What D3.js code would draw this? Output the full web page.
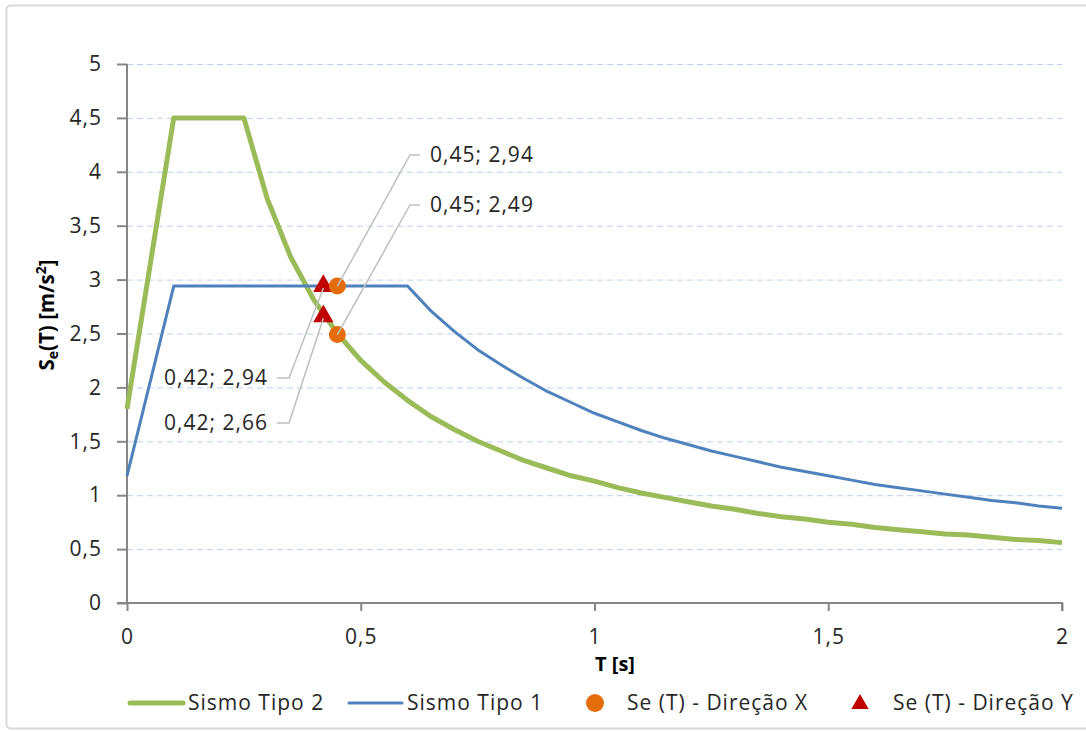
<!DOCTYPE html>
<html><head><meta charset="utf-8">
<script src="https://cdn.jsdelivr.net/npm/d3@7"></script>
<style>
html,body{margin:0;padding:0;background:#fff;}
svg{display:block;font-family:"Open Sans",Lato,sans-serif;}
</style></head>
<body>
<svg id="c" width="1086" height="731"></svg>
<script>
// ---- data ----
const periods = [0,0.1,0.15,0.2,0.25,0.3,0.35,0.4,0.45,0.5,0.55,0.6,0.65,0.7,0.75,0.8,0.85,0.9,0.95,1.0,1.05,1.1,1.15,1.2,1.25,1.3,1.35,1.4,1.45,1.5,1.55,1.6,1.65,1.7,1.75,1.8,1.85,1.9,1.95,2.0];
const sismoTipo2 = [1.80,4.50,4.50,4.50,4.50,3.75,3.21,2.81,2.50,2.25,2.05,1.88,1.73,1.61,1.50,1.41,1.32,1.25,1.18,1.13,1.07,1.02,0.98,0.94,0.90,0.87,0.83,0.80,0.78,0.75,0.73,0.70,0.68,0.66,0.64,0.63,0.61,0.59,0.58,0.56];
const sismoTipo1 = [1.18,2.94,2.94,2.94,2.94,2.94,2.94,2.94,2.94,2.94,2.94,2.94,2.71,2.52,2.35,2.21,2.08,1.96,1.86,1.76,1.68,1.60,1.53,1.47,1.41,1.36,1.31,1.26,1.22,1.18,1.14,1.10,1.07,1.04,1.01,0.98,0.95,0.93,0.90,0.88];
const dirX_T = [0.45,0.45];
const dirX_Se = [2.94,2.49];
const dirY_T = [0.42,0.42];
const dirY_Se = [2.94,2.66];
const xTicks = [0,0.5,1,1.5,2];
const yTicks = [0,0.5,1,1.5,2,2.5,3,3.5,4,4.5,5];
const legendLabels = ["Sismo Tipo 2","Sismo Tipo 1","Se (T) - Direção X","Se (T) - Direção Y"];

// ---- layout ----
const svg = d3.select("#c");
const fmt = v => String(v).replace(".", ",");
const x = d3.scaleLinear().domain([0,2]).range([127,1062]);
const y = d3.scaleLinear().domain([0,5]).range([603,64]);
const green="#9bbb59", blue="#4f81bd", orange="#e46c0a", red="#c00000";
const txt="#262626", FS=21, LS="1px";

svg.append("rect").attr("x",6.5).attr("y",5.5).attr("width",1100).attr("height",723)
  .attr("rx",4).attr("fill","#fff").attr("stroke","#d9d9d9").attr("stroke-width",2);

// gridlines
svg.append("g").selectAll("line").data(yTicks.filter(d=>d>0)).join("line")
  .attr("x1",x(0)).attr("x2",x(2)).attr("y1",d=>y(d)+0.5).attr("y2",d=>y(d)+0.5)
  .attr("stroke","#bcd0f2").attr("stroke-width",1).attr("stroke-dasharray","6,4");

// axes
const yAxis = svg.append("g").attr("transform",`translate(${x(0)},0)`)
  .call(d3.axisLeft(y).tickValues(yTicks).tickFormat(fmt).tickSize(10).tickPadding(15));
const xAxis = svg.append("g").attr("transform",`translate(0,${y(0)})`)
  .call(d3.axisBottom(x).tickValues(xTicks).tickFormat(fmt).tickSize(8).tickPadding(18));
[yAxis,xAxis].forEach(g=>{
  g.select(".domain").attr("stroke","#868686").attr("stroke-width",2);
  g.selectAll(".tick line").attr("stroke","#868686").attr("stroke-width",2);
  g.selectAll(".tick text").attr("fill",txt).attr("font-size",FS).attr("letter-spacing",LS)
    .attr("font-family","'Open Sans',Lato,sans-serif");
});
xAxis.select(".domain").attr("d",`M${x(0)-10},0H${x(2)}V8`);
yAxis.select(".domain").attr("d",`M0,${y(5)}V${y(0)}`);

// lines
const line = d3.line().x(d=>x(d[0])).y(d=>y(d[1]));
svg.append("path").datum(periods.map((t,i)=>[t,sismoTipo2[i]])).attr("d",line)
  .attr("fill","none").attr("stroke",green).attr("stroke-width",5).attr("stroke-linejoin","round");
svg.append("path").datum(periods.map((t,i)=>[t,sismoTipo1[i]])).attr("d",line)
  .attr("fill","none").attr("stroke",blue).attr("stroke-width",3).attr("stroke-linejoin","round");

// markers
const tri = d3.symbol().type(d3.symbolTriangle).size(180);
svg.append("g").selectAll("path").data(dirY_T.map((t,i)=>[t,dirY_Se[i]])).join("path")
  .attr("d",tri).attr("transform",d=>`translate(${x(d[0])},${y(d[1])})`).attr("fill",red);
svg.append("g").selectAll("circle").data(dirX_T.map((t,i)=>[t,dirX_Se[i]])).join("circle")
  .attr("cx",d=>x(d[0])).attr("cy",d=>y(d[1])).attr("r",8.5).attr("fill",orange);

// data labels with leader lines
const labels = [
  {t:dirX_T[0], v:dirX_Se[0], lx:410, ly:155, side:"right"},
  {t:dirX_T[1], v:dirX_Se[1], lx:410, ly:205, side:"right"},
  {t:dirY_T[0], v:dirY_Se[0], lx:289, ly:378, side:"left"},
  {t:dirY_T[1], v:dirY_Se[1], lx:289, ly:423, side:"left"}
];
const lg = svg.append("g");
labels.forEach(l=>{
  const px = x(l.t), py = y(l.v) + (l.side==="left"? 2 : 0);
  const hx = l.side==="right" ? l.lx+10 : l.lx-12;
  lg.append("path").attr("d",`M${px},${py}L${l.lx},${l.ly}H${hx}`)
    .attr("fill","none").attr("stroke","#bfbfbf").attr("stroke-width",1.5);
  lg.append("text").attr("x", l.side==="right"? l.lx+20 : l.lx-21).attr("y",l.ly)
    .attr("dy","0.35em").attr("text-anchor", l.side==="right"?"start":"end")
    .attr("font-size",FS).attr("letter-spacing",LS).attr("fill",txt).text(fmt(l.t)+"; "+fmt(l.v));
});

// axis titles
svg.append("text").attr("x",615).attr("y",664).attr("dy","0.35em").attr("text-anchor","middle")
  .attr("font-size",20).attr("font-weight","bold").attr("fill","#000").text("T [s]");
const yt = svg.append("text").attr("transform","translate(47,315) rotate(-90)").attr("text-anchor","middle")
  .attr("dy","0.35em").attr("font-size",20.5).attr("font-weight","bold").attr("fill","#000");
yt.append("tspan").text("S");
yt.append("tspan").attr("font-size",14).attr("dy","4").text("e");
yt.append("tspan").attr("dy","-4").text("(T) [m/s");
yt.append("tspan").attr("font-size",14).attr("dy","-8").text("2");
yt.append("tspan").attr("dy","8").text("]");

// legend
const leg = svg.append("g").attr("font-size",FS).attr("letter-spacing",LS).attr("fill",txt);
const ly = 703;
leg.append("line").attr("x1",130).attr("x2",183).attr("y1",ly).attr("y2",ly).attr("stroke",green).attr("stroke-width",5).attr("stroke-linecap","round");
leg.append("text").attr("x",188).attr("y",ly).attr("dy","0.35em").text(legendLabels[0]);
leg.append("line").attr("x1",349).attr("x2",402).attr("y1",ly).attr("y2",ly).attr("stroke",blue).attr("stroke-width",3).attr("stroke-linecap","round");
leg.append("text").attr("x",407).attr("y",ly).attr("dy","0.35em").text(legendLabels[1]);
leg.append("circle").attr("cx",595).attr("cy",ly).attr("r",9).attr("fill",orange);
leg.append("text").attr("x",627).attr("y",ly).attr("dy","0.35em").text(legendLabels[2]);
leg.append("path").attr("d",d3.symbol().type(d3.symbolTriangle).size(130)).attr("transform",`translate(860,${ly+1})`).attr("fill",red);
leg.append("text").attr("x",893).attr("y",ly).attr("dy","0.35em").text(legendLabels[3]);
</script>
</body></html>
